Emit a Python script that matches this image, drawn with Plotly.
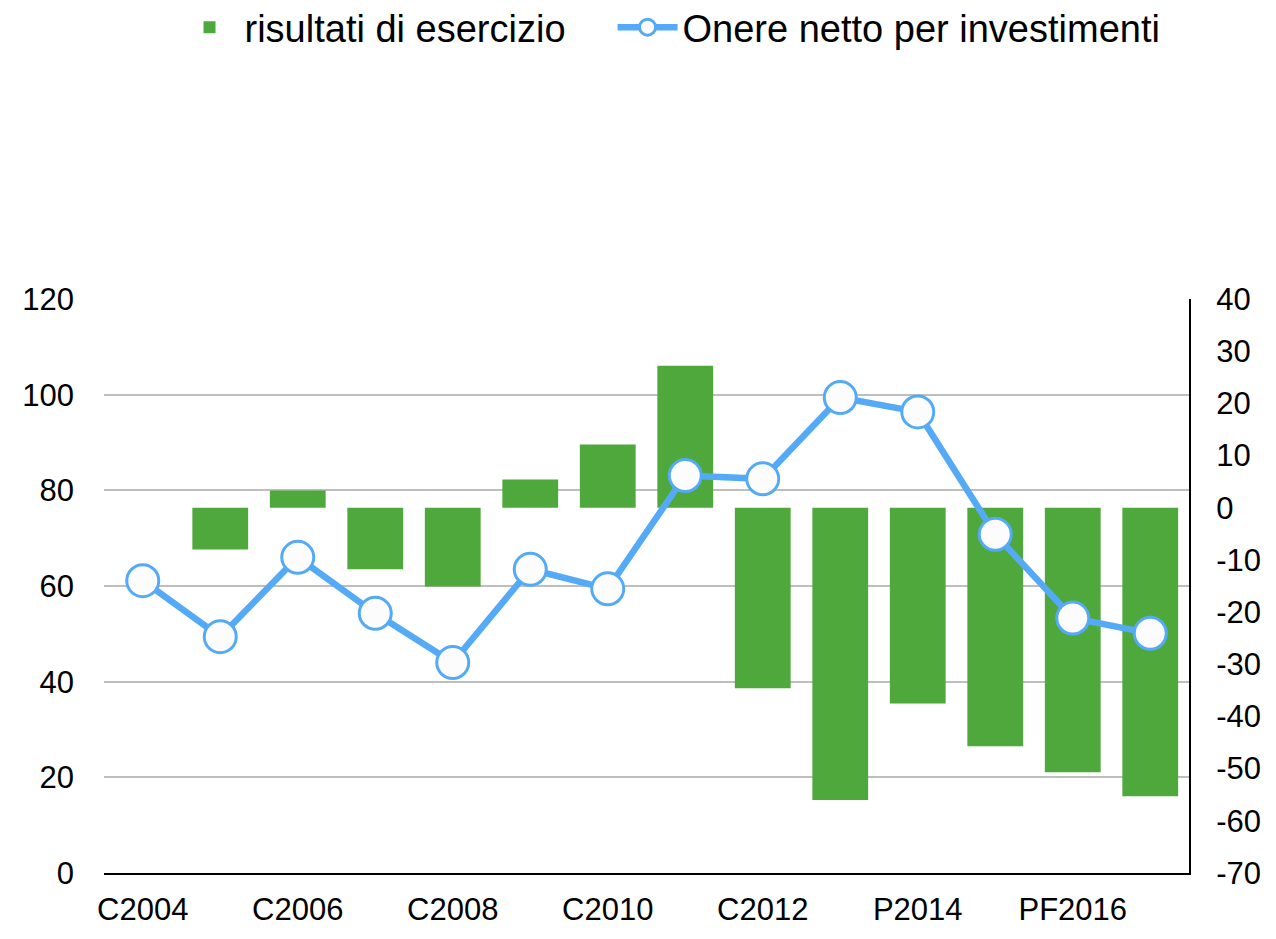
import plotly.graph_objects as go

categories = ["C2004", "C2005", "C2006", "C2007", "C2008", "C2009", "C2010",
              "C2011", "C2012", "C2013", "P2014", "P2015", "PF2016", "PF2017"]
risultati = [0, -8.0, 3.3, -11.8, -15.1, 5.4, 12.1, 27.2, -34.6, -56.0, -37.5, -45.7, -50.7, -55.3]
onere = [61.1, 49.4, 66.0, 54.3, 44.0, 63.5, 59.4, 83.1, 82.4, 99.4, 96.4, 70.8, 53.3, 50.1]
shown_ticks = categories[::2]
left_ticks = [0, 20, 40, 60, 80, 100, 120]
right_ticks = [40, 30, 20, 10, 0, -10, -20, -30, -40, -50, -60, -70]
right_labels = [str(v) for v in right_ticks]

FONT = "Liberation Sans, Arial, sans-serif"
FS = 31

fig = go.Figure()
fig.add_trace(go.Bar(
    x=categories, y=risultati, name="risultati di esercizio",
    marker=dict(color="#4FA83B", line=dict(width=0)),
    width=0.72, yaxis="y", legend="legend",
))
fig.add_trace(go.Scatter(
    x=categories, y=onere, name="Onere netto per investimenti",
    mode="lines+markers",
    line=dict(color="#55AAF7", width=6.5),
    marker=dict(size=32, color="#FCFCFC", line=dict(color="#55AAF7", width=3)),
    yaxis="y2", legend="legend2",
))

legend_common = dict(orientation="h", xanchor="left", y=1.528, yanchor="top",
                     yref="paper", font=dict(size=38), itemwidth=60,
                     bgcolor="rgba(0,0,0,0)")

fig.update_layout(
    width=1260, height=923,
    margin=dict(l=96, r=79, t=291, b=58, autoexpand=False),
    paper_bgcolor="white", plot_bgcolor="white",
    font=dict(family=FONT, size=FS, color="black"),
    showlegend=True,
    legend=dict(x=0.065, **legend_common),
    legend2=dict(x=0.4687, **legend_common),
    bargap=0.28,
    xaxis=dict(
        type="category", range=[-0.5, len(categories) - 0.5],
        tickvals=shown_ticks, ticktext=shown_ticks,
        showline=True, linecolor="black", linewidth=2,
        showgrid=False, ticks="", tickfont=dict(size=FS), automargin=False,
        ticklabelstandoff=8,
    ),
    yaxis=dict(
        side="right", range=[-70, 40], tickvals=right_ticks, ticktext=right_labels,
        showgrid=False, zeroline=False, showline=True, linecolor="black", linewidth=2,
        ticks="", tickfont=dict(size=FS), ticklabelstandoff=19, automargin=False,
    ),
    yaxis2=dict(
        side="left", overlaying="y", range=[0, 120], tickvals=left_ticks,
        showgrid=True, gridcolor="#BEBEBE", gridwidth=2, zeroline=False, showline=False,
        ticks="", tickfont=dict(size=FS), ticklabelstandoff=29, automargin=False,
    ),
)

fig.write_html("out.html")
